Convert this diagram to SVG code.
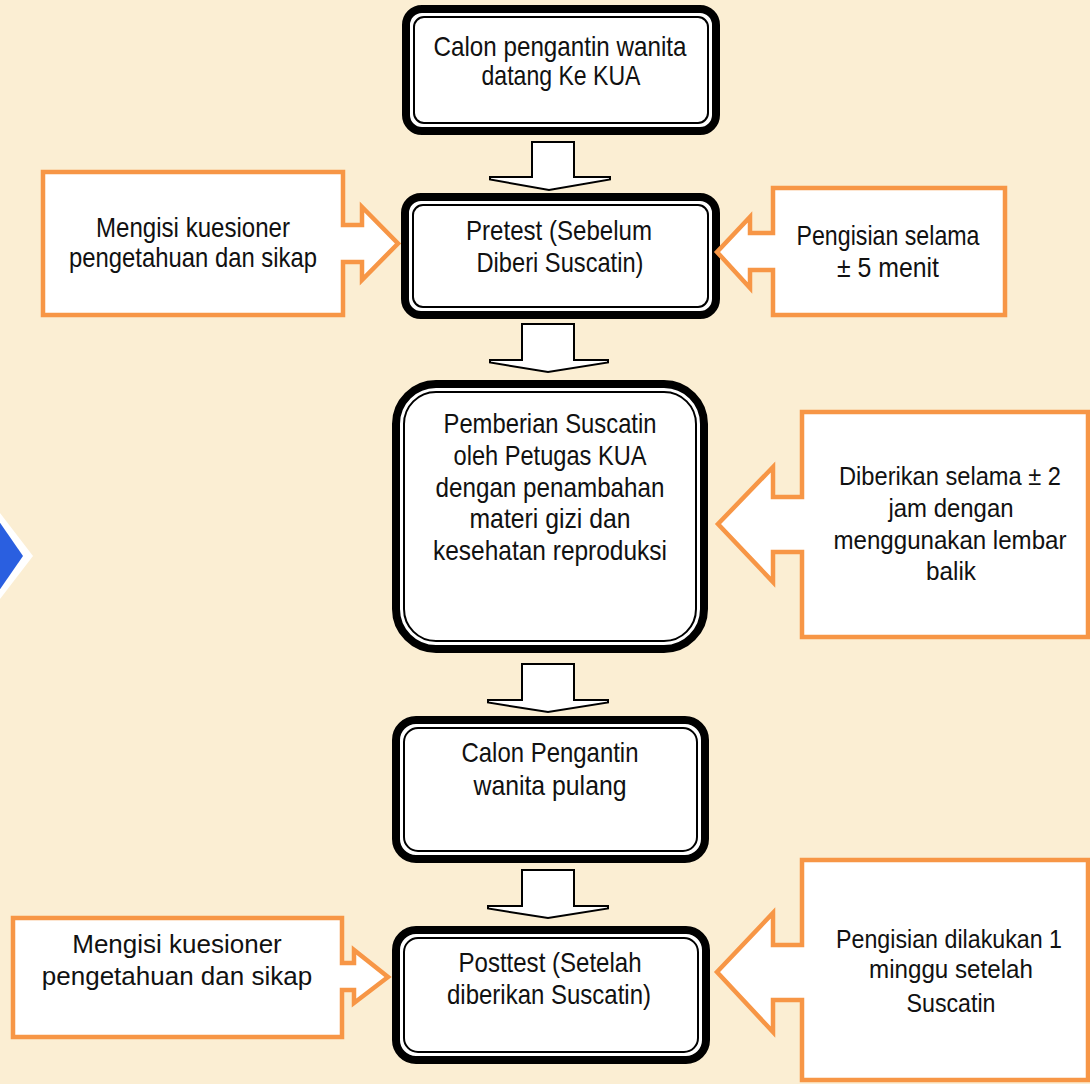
<svg xmlns="http://www.w3.org/2000/svg" width="1090" height="1084" viewBox="0 0 1090 1084">
<style>
.bg{fill:#FBEED3}
.thick{fill:#FFFFFF;stroke:#000;stroke-width:8}
.thin{fill:none;stroke:#000;stroke-width:2}
.call{fill:#FFFFFF;stroke:#F79646;stroke-width:4.5;stroke-linejoin:miter}
.arr{fill:#FFFFFF;stroke:#000;stroke-width:2;stroke-linejoin:miter}
.t{font-family:"Liberation Sans","DejaVu Sans",sans-serif;font-size:28px;fill:#111;text-anchor:middle}
.s{font-size:25px}
.a{font-family:"Liberation Sans",Arial,sans-serif;font-size:26px;fill:#111;text-anchor:middle}
</style>
<rect class="bg" x="0" y="0" width="1090" height="1084"/>

<g id="decor">
<polygon points="-20,487 33,556 -20,625" fill="#FFFFFF"/>
<polygon points="-20,494 23,556 -20,618" fill="#2A5FE0"/>
</g>

<g id="connectors">
<path class="arr" d="M532,142 H574 V177 H610 V179.5 L549,190 L490,179.5 V177 H532 Z"/>
<path class="arr" d="M522,324 H574 V360 H608 V362.5 L548,372 L490,362.5 V360 H522 Z"/>
<path class="arr" d="M522,664 H574 V700 H608 V702.5 L548,712 L488,702.5 V700 H522 Z"/>
<path class="arr" d="M522,870 H574 V906 H608 V908.5 L548,918 L488,908.5 V906 H522 Z"/>
</g>

<g id="n1">
<rect class="thick" x="406" y="9" width="310" height="122" rx="16"/>
<rect class="thin" x="414" y="17" width="294" height="106" rx="10"/>
<text class="t" x="560" y="56" textLength="253" lengthAdjust="spacingAndGlyphs">Calon pengantin wanita</text>
<text class="t" x="561" y="85" textLength="159" lengthAdjust="spacingAndGlyphs">datang Ke KUA</text>
</g>

<g id="n2">
<rect class="thick" x="405" y="197" width="311" height="118" rx="16"/>
<rect class="thin" x="413" y="205" width="295" height="102" rx="10"/>
<text class="t" x="559" y="240" textLength="186" lengthAdjust="spacingAndGlyphs">Pretest (Sebelum</text>
<text class="t" x="560" y="272" textLength="167" lengthAdjust="spacingAndGlyphs">Diberi Suscatin)</text>
</g>

<g id="n3">
<rect class="thick" x="396" y="384" width="308" height="265" rx="40"/>
<rect class="thin" x="404" y="392" width="292" height="249" rx="32"/>
<text class="t" x="550" y="433" textLength="213" lengthAdjust="spacingAndGlyphs">Pemberian Suscatin</text>
<text class="t" x="550" y="465" textLength="193" lengthAdjust="spacingAndGlyphs">oleh Petugas KUA</text>
<text class="t" x="550" y="497" textLength="229" lengthAdjust="spacingAndGlyphs">dengan penambahan</text>
<text class="t" x="550" y="528" textLength="161" lengthAdjust="spacingAndGlyphs">materi gizi dan</text>
<text class="t" x="550" y="560" textLength="234" lengthAdjust="spacingAndGlyphs">kesehatan reproduksi</text>
</g>

<g id="n4">
<rect class="thick" x="396" y="720" width="309" height="139" rx="20"/>
<rect class="thin" x="404" y="728" width="293" height="123" rx="14"/>
<text class="t" x="550" y="762" textLength="177" lengthAdjust="spacingAndGlyphs">Calon Pengantin</text>
<text class="t" x="550" y="795" textLength="153" lengthAdjust="spacingAndGlyphs">wanita pulang</text>
</g>

<g id="n5">
<rect class="thick" x="396" y="930" width="310" height="130" rx="20"/>
<rect class="thin" x="404" y="938" width="294" height="114" rx="14"/>
<text class="t" x="550" y="972" textLength="183" lengthAdjust="spacingAndGlyphs">Posttest (Setelah</text>
<text class="t" x="549" y="1004" textLength="204" lengthAdjust="spacingAndGlyphs">diberikan Suscatin)</text>
</g>

<g id="c1">
<path class="call" d="M43,172 H343 V225 H362 V207 L398,243.5 L362,280 V262 H343 V315 H43 Z"/>
<text class="t" x="193" y="237" textLength="194" lengthAdjust="spacingAndGlyphs">Mengisi kuesioner</text>
<text class="t" x="193" y="267" textLength="248" lengthAdjust="spacingAndGlyphs">pengetahuan dan sikap</text>
</g>

<g id="c2">
<path class="call" d="M1005,188 V315 H773 V270 H750 V288 L717,252 L750,217 V233 H773 V188 Z"/>
<text class="t" x="888" y="245" textLength="183" lengthAdjust="spacingAndGlyphs">Pengisian selama</text>
<text class="t" x="888" y="277" textLength="102" lengthAdjust="spacingAndGlyphs">± 5 menit</text>
</g>

<g id="c3">
<path class="call" d="M1088,412 V637 H802 V552 H773 V582 L718,524 L773,467 V497 H802 V412 Z"/>
<text class="t s" x="950" y="485" textLength="222" lengthAdjust="spacingAndGlyphs">Diberikan selama ± 2</text>
<text class="t s" x="951" y="517" textLength="125" lengthAdjust="spacingAndGlyphs">jam dengan</text>
<text class="t s" x="950" y="549" textLength="233" lengthAdjust="spacingAndGlyphs">menggunakan lembar</text>
<text class="t s" x="951" y="580" textLength="50" lengthAdjust="spacingAndGlyphs">balik</text>
</g>

<g id="c4">
<path class="call" d="M13,918 H342 V963 H354 V950 L388,977 L354,1003 V990 H342 V1037 H13 Z"/>
<text class="a" x="177" y="953">Mengisi kuesioner</text>
<text class="a" x="177" y="985">pengetahuan dan sikap</text>
</g>

<g id="c5">
<path class="call" d="M1088,860 V1080 H802 V1000 H773 V1032 L717,972 L773,913 V945 H802 V860 Z"/>
<text class="t s" x="949" y="948" textLength="226" lengthAdjust="spacingAndGlyphs">Pengisian dilakukan 1</text>
<text class="t s" x="951" y="978" textLength="164" lengthAdjust="spacingAndGlyphs">minggu setelah</text>
<text class="t s" x="951" y="1012" textLength="89" lengthAdjust="spacingAndGlyphs">Suscatin</text>
</g>
</svg>
